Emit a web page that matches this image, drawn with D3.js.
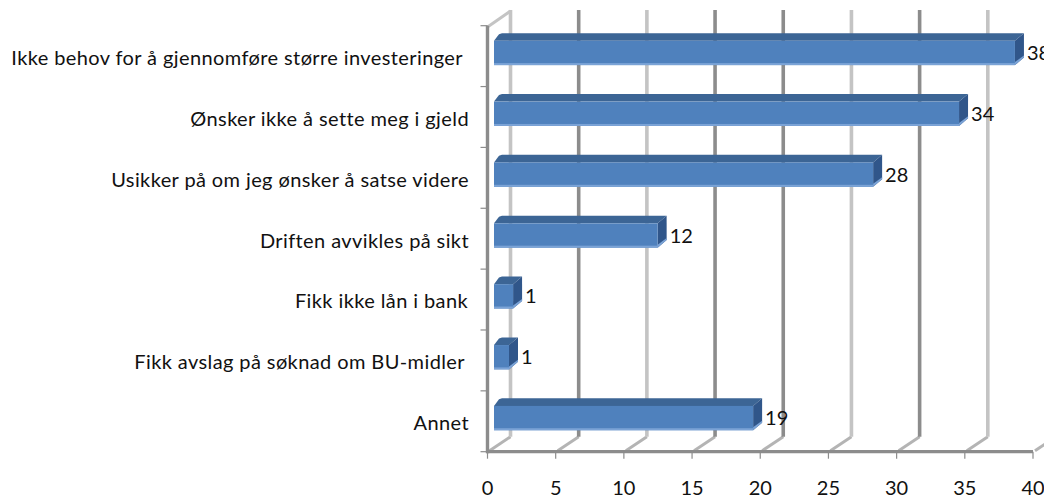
<!DOCTYPE html>
<html><head><meta charset="utf-8">
<script src="https://cdnjs.cloudflare.com/ajax/libs/d3/7.8.5/d3.min.js"></script>
<style>html,body{margin:0;padding:0;background:#fff}svg{display:block}text{font-family:Lato,"Open Sans",sans-serif;fill:#111}</style>
</head><body><svg id="c" width="1044" height="500"></svg>
<script>
const categories = ["Ikke behov for å gjennomføre større investeringer","Ønsker ikke å sette meg i gjeld","Usikker på om jeg ønsker å satse videre","Driften avvikles på sikt","Fikk ikke lån i bank","Fikk avslag på søknad om BU-midler","Annet"];
const values = [38.2,34.1,27.8,12,1.4,1.1,19];
const xTicks = [0,5,10,15,20,25,30,35,40];
const darkTicks = [5,15,20,30];

const svg = d3.select("#c");
const x = d3.scaleLinear().domain([0,40]).range([487.5,1033]);
const y = d3.scaleBand().domain(categories).range([25.7,451.7]).paddingInner(0.6).paddingOuter(0.3);
const floorY = 451.7, DX = 23, DY = 15, backTop = 10;
const barDX = 6.5, depthX = 9, depthY = 7.6, barLift = 3.2;
const labelInset = [6,0,0,0,1,4,0];
const grid = svg.append("g");
const poly = pts => pts.map(p=>p.join(",")).join(" ");

xTicks.forEach(t=>{
  const x0 = x(t);
  grid.append("line").attr("x1",x0+2).attr("y1",floorY-1).attr("x2",x0+DX).attr("y2",floorY-DY)
    .attr("stroke","#b4b4b4").attr("stroke-width",3);
  grid.append("line").attr("x1",x0+DX).attr("y1",backTop).attr("x2",x0+DX).attr("y2",floorY-DY)
    .attr("stroke",darkTicks.includes(t)?"#8c8c8c":"#c4c4c4").attr("stroke-width",3.6);
});
grid.append("line").attr("x1",x(0)).attr("y1",27).attr("x2",x(0)+DX).attr("y2",backTop+1)
  .attr("stroke","#c4c4c4").attr("stroke-width",3);

const axis = svg.append("g");
axis.append("line").attr("x1",x(0)).attr("x2",x(0)).attr("y1",25.7).attr("y2",floorY+1.5).attr("stroke","#8c8c8c").attr("stroke-width",3.4);
axis.append("line").attr("x1",x(0)-1).attr("x2",x(40)).attr("y1",floorY).attr("y2",floorY).attr("stroke","#8c8c8c").attr("stroke-width",3.2);
xTicks.forEach(t=>{
  axis.append("line").attr("x1",x(t)).attr("x2",x(t)).attr("y1",floorY).attr("y2",floorY+7).attr("stroke","#8c8c8c").attr("stroke-width",1.2);
  axis.append("text").attr("x",x(t)).attr("y",495).attr("text-anchor","middle").attr("font-size",20).text(t);
});
const step = y.step();
d3.range(categories.length+1).forEach(i=>{
  const yy = 25.7+i*step;
  axis.append("line").attr("x1",x(0)-7).attr("x2",x(0)).attr("y1",yy).attr("y2",yy).attr("stroke","#8c8c8c").attr("stroke-width",1.2);
});

const bars = svg.append("g");
categories.forEach((c,i)=>{
  const x0 = x(0)+barDX, x1 = x(values[i])+barDX;
  const top = y(c)-barLift, bot = top+y.bandwidth();
  bars.append("polygon").attr("points",poly([[x0,top],[x0+5,top-depthY+1],[x0+8,top-depthY],[x1+depthX,top-depthY],[x1,top]])).attr("fill","#3c6595");
  bars.append("polygon").attr("points",poly([[x1,top],[x1+depthX,top-depthY],[x1+depthX,bot-depthY],[x1,bot]])).attr("fill","#30568a");
  bars.append("rect").attr("x",x0).attr("y",top).attr("width",x1-x0).attr("height",bot-top).attr("fill","#4f81bd");
  bars.append("rect").attr("x",x0).attr("y",bot-2).attr("width",x1-x0).attr("height",2).attr("fill","#7ba3d6");
  bars.append("polygon").attr("points",poly([[x1,bot],[x1+depthX,bot-depthY],[x1+depthX,bot-depthY-2],[x1,bot-3]])).attr("fill","#7ba3d6");
  svg.append("text").attr("x",x1+depthX+3).attr("y",(top+bot)/2+7).attr("font-size",20).text(d3.format("d")(values[i]));
  svg.append("text").attr("x",469-labelInset[i]).attr("y",(top+bot)/2+12).attr("text-anchor","end").attr("font-size",20).attr("letter-spacing",0.4).text(c);
});
</script></body></html>
